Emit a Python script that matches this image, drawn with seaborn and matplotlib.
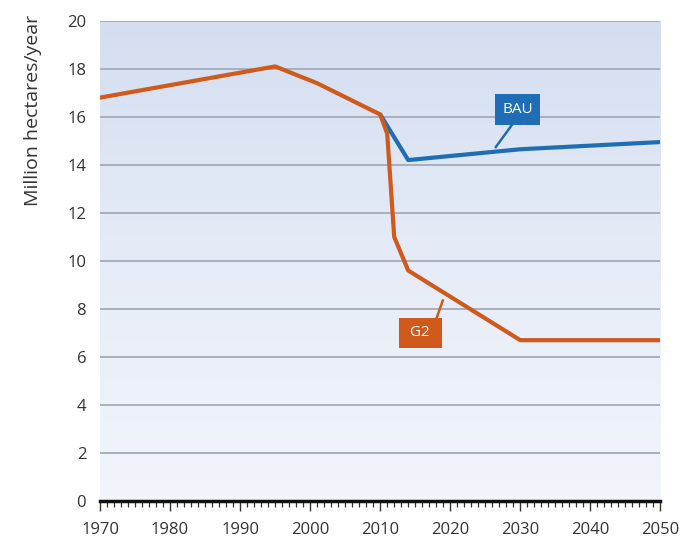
import numpy as np
import pandas as pd
import matplotlib
matplotlib.use("Agg")
import matplotlib.pyplot as plt
import seaborn as sns
from matplotlib.ticker import MultipleLocator
from matplotlib.colors import LinearSegmentedColormap

# ---- data ----
g2_years = [1970, 1995, 2001, 2010, 2011, 2012, 2014, 2030, 2050]
g2_values = [16.8, 18.1, 17.4, 16.1, 15.3, 11.0, 9.6, 6.7, 6.7]
bau_years = [2010, 2014, 2030, 2050]
bau_values = [16.1, 14.2, 14.65, 14.95]
y_ticks = [0, 2, 4, 6, 8, 10, 12, 14, 16, 18, 20]
x_ticks = [1970, 1980, 1990, 2000, 2010, 2020, 2030, 2040, 2050]
y_label = "Million hectares/year"

g2_color = "#cf5a1c"
bau_color = "#1f6db5"

sns.set_theme(style="white")
plt.rcParams['font.family'] = ['Open Sans', 'DejaVu Sans']

fig = plt.figure(figsize=(6.9, 5.47), dpi=100)
ax = fig.add_axes([0.145, 0.084, 0.812, 0.878])

# gradient background: darker at top, lighter at bottom
grad = np.linspace(0, 1, 256).reshape(-1, 1)
cmap = LinearSegmentedColormap.from_list("bg", ["#d4def0", "#e6ecf7", "#f2f5fb"])
ax.imshow(grad, extent=[0, 1, 0, 1], origin="upper", transform=ax.transAxes,
          cmap=cmap, aspect="auto", zorder=0, interpolation="bicubic")

for yt in y_ticks[1:]:
    ax.axhline(yt, color="#a3aab8", lw=1.3, zorder=1)

df_g2 = pd.DataFrame({"year": g2_years, "value": g2_values})
df_bau = pd.DataFrame({"year": bau_years, "value": bau_values})
sns.lineplot(data=df_bau, x="year", y="value", ax=ax, color=bau_color, lw=3.0,
             zorder=3)
sns.lineplot(data=df_g2, x="year", y="value", ax=ax, color=g2_color, lw=3.0,
             zorder=4)

# labels
ax.plot([2026.4, 2028.9], [14.7, 15.7], color=bau_color, lw=1.8, zorder=5,
        solid_capstyle="butt")
ax.text(2029.6, 16.3, "BAU", color="white", fontsize=11, ha="center", va="center",
        zorder=6, bbox=dict(boxstyle="square,pad=0.5", fc=bau_color, ec="none"))
ax.plot([2019.0, 2017.9], [8.4, 7.5], color=g2_color, lw=1.8, zorder=5,
        solid_capstyle="butt")
ax.text(2015.7, 7.0, " G2 ", color="white", fontsize=11, ha="center", va="center",
        zorder=6, bbox=dict(boxstyle="square,pad=0.5", fc=g2_color, ec="none"))

ax.set_xlim(1970, 2050)
ax.set_ylim(0, 20)
ax.set_xticks(x_ticks)
ax.set_yticks(y_ticks)
ax.xaxis.set_minor_locator(MultipleLocator(1))
ax.tick_params(axis="x", which="major", direction="out", length=7, width=1,
               color="#333333", labelsize=12, labelcolor="#333333", pad=8,
               bottom=True)
ax.tick_params(axis="x", which="minor", direction="out", length=4, width=0.9,
               color="#333333", bottom=True)
ax.tick_params(axis="y", length=0, labelsize=12, labelcolor="#333333", pad=10)
for s in ["top", "right", "left"]:
    ax.spines[s].set_visible(False)
ax.spines["bottom"].set_linewidth(2.5)
ax.spines["bottom"].set_color("#111111")
ax.set_xlabel("")
ax.set_ylabel(y_label, fontsize=14, color="#333333", loc="top")
ax.yaxis.set_label_coords(-0.104, 1.012)

fig.savefig("out.png", dpi=100)
